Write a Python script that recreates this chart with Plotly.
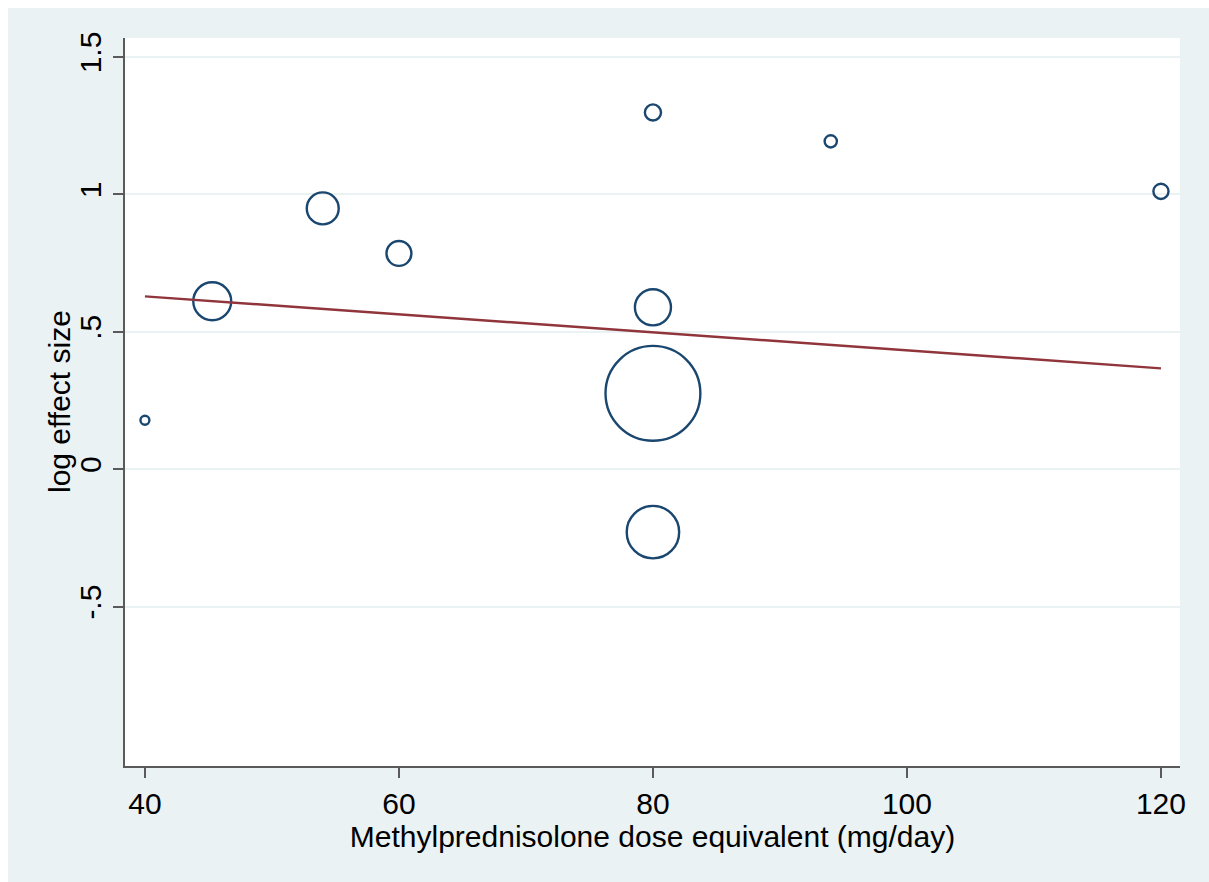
import numpy as np
import plotly.graph_objects as go

# Data
dose = [40, 45.3, 54, 60, 80, 94, 120, 80, 80, 80]
log_es = [0.178, 0.611, 0.949, 0.785, 1.298, 1.193, 1.011, 0.589, 0.276, -0.229]
weight = [0.8, 14.4, 10.2, 6.2, 2.6, 1.5, 2.3, 13.0, 90.0, 27.5]  # relative study weights

fit_x = [40, 120]
fit_y = [0.629, 0.367]

x_ticks = [40, 60, 80, 100, 120]
y_ticks = [1.5, 1, 0.5, 0, -0.5]
y_ticktext = ["1.5", "1", ".5", "0", "-.5"]

W, H = 1209, 882
ml, mr, mt, mb = 117, 37, 30, 124
BG = "#EAF2F3"
FONT = "Liberation Sans, Arial, sans-serif"
FS = 30

sizes = [float(np.sqrt(w) * 10) for w in weight]

fig = go.Figure()
fig.add_trace(go.Scatter(
    x=dose, y=log_es, mode="markers",
    marker=dict(size=sizes, color="rgba(0,0,0,0)", symbol="circle", opacity=1,
                line=dict(color="#1A476F", width=2.4)),
    showlegend=False, hoverinfo="x+y",
))
fig.add_trace(go.Scatter(
    x=fit_x, y=fit_y, mode="lines",
    line=dict(color="#90353B", width=2.4),
    showlegend=False,
))

pw = W - ml - mr
fig.add_annotation(
    text="log effect size", textangle=-90, showarrow=False,
    xref="paper", yref="paper", x=(51 - ml) / pw, y=0.5,
    xanchor="center", yanchor="middle",
    font=dict(family=FONT, size=FS, color="black"),
)

fig.update_layout(
    width=W, height=H,
    margin=dict(l=ml, r=mr, t=mt, b=mb, pad=0),
    paper_bgcolor=BG, plot_bgcolor="white",
    font=dict(family=FONT, size=FS, color="black"),
    xaxis=dict(
        range=[38.43, 121.5], tickvals=x_ticks, showgrid=False, zeroline=False,
        showline=True, linecolor="#5A5A5A", linewidth=2,
        ticks="outside", ticklen=10, tickwidth=2, tickcolor="#5A5A5A",
        tickfont=dict(family=FONT, size=FS, color="black"),
        title=dict(text="Methylprednisolone dose equivalent (mg/day)",
                   font=dict(family=FONT, size=FS, color="black"), standoff=2),
    ),
    yaxis=dict(
        range=[-1.08, 1.569], tickvals=y_ticks, ticktext=y_ticktext,
        tickangle=-90, showgrid=True, gridcolor=BG, gridwidth=2, zeroline=False,
        showline=True, linecolor="#5A5A5A", linewidth=2,
        ticks="outside", ticklen=10, tickwidth=2, tickcolor="#5A5A5A",
        tickfont=dict(family=FONT, size=FS, color="black"),
    ),
)

post = ("var s='linear-gradient(to bottom, #ffffff 8px, rgba(255,255,255,0) 8px),"
        "linear-gradient(to right, #ffffff 8px, " + BG + " 8px)';"
        "document.documentElement.style.background=s;"
        "document.documentElement.style.minHeight='100%';"
        "document.body.style.background='transparent';")
fig.write_html("out.html", post_script=post)
